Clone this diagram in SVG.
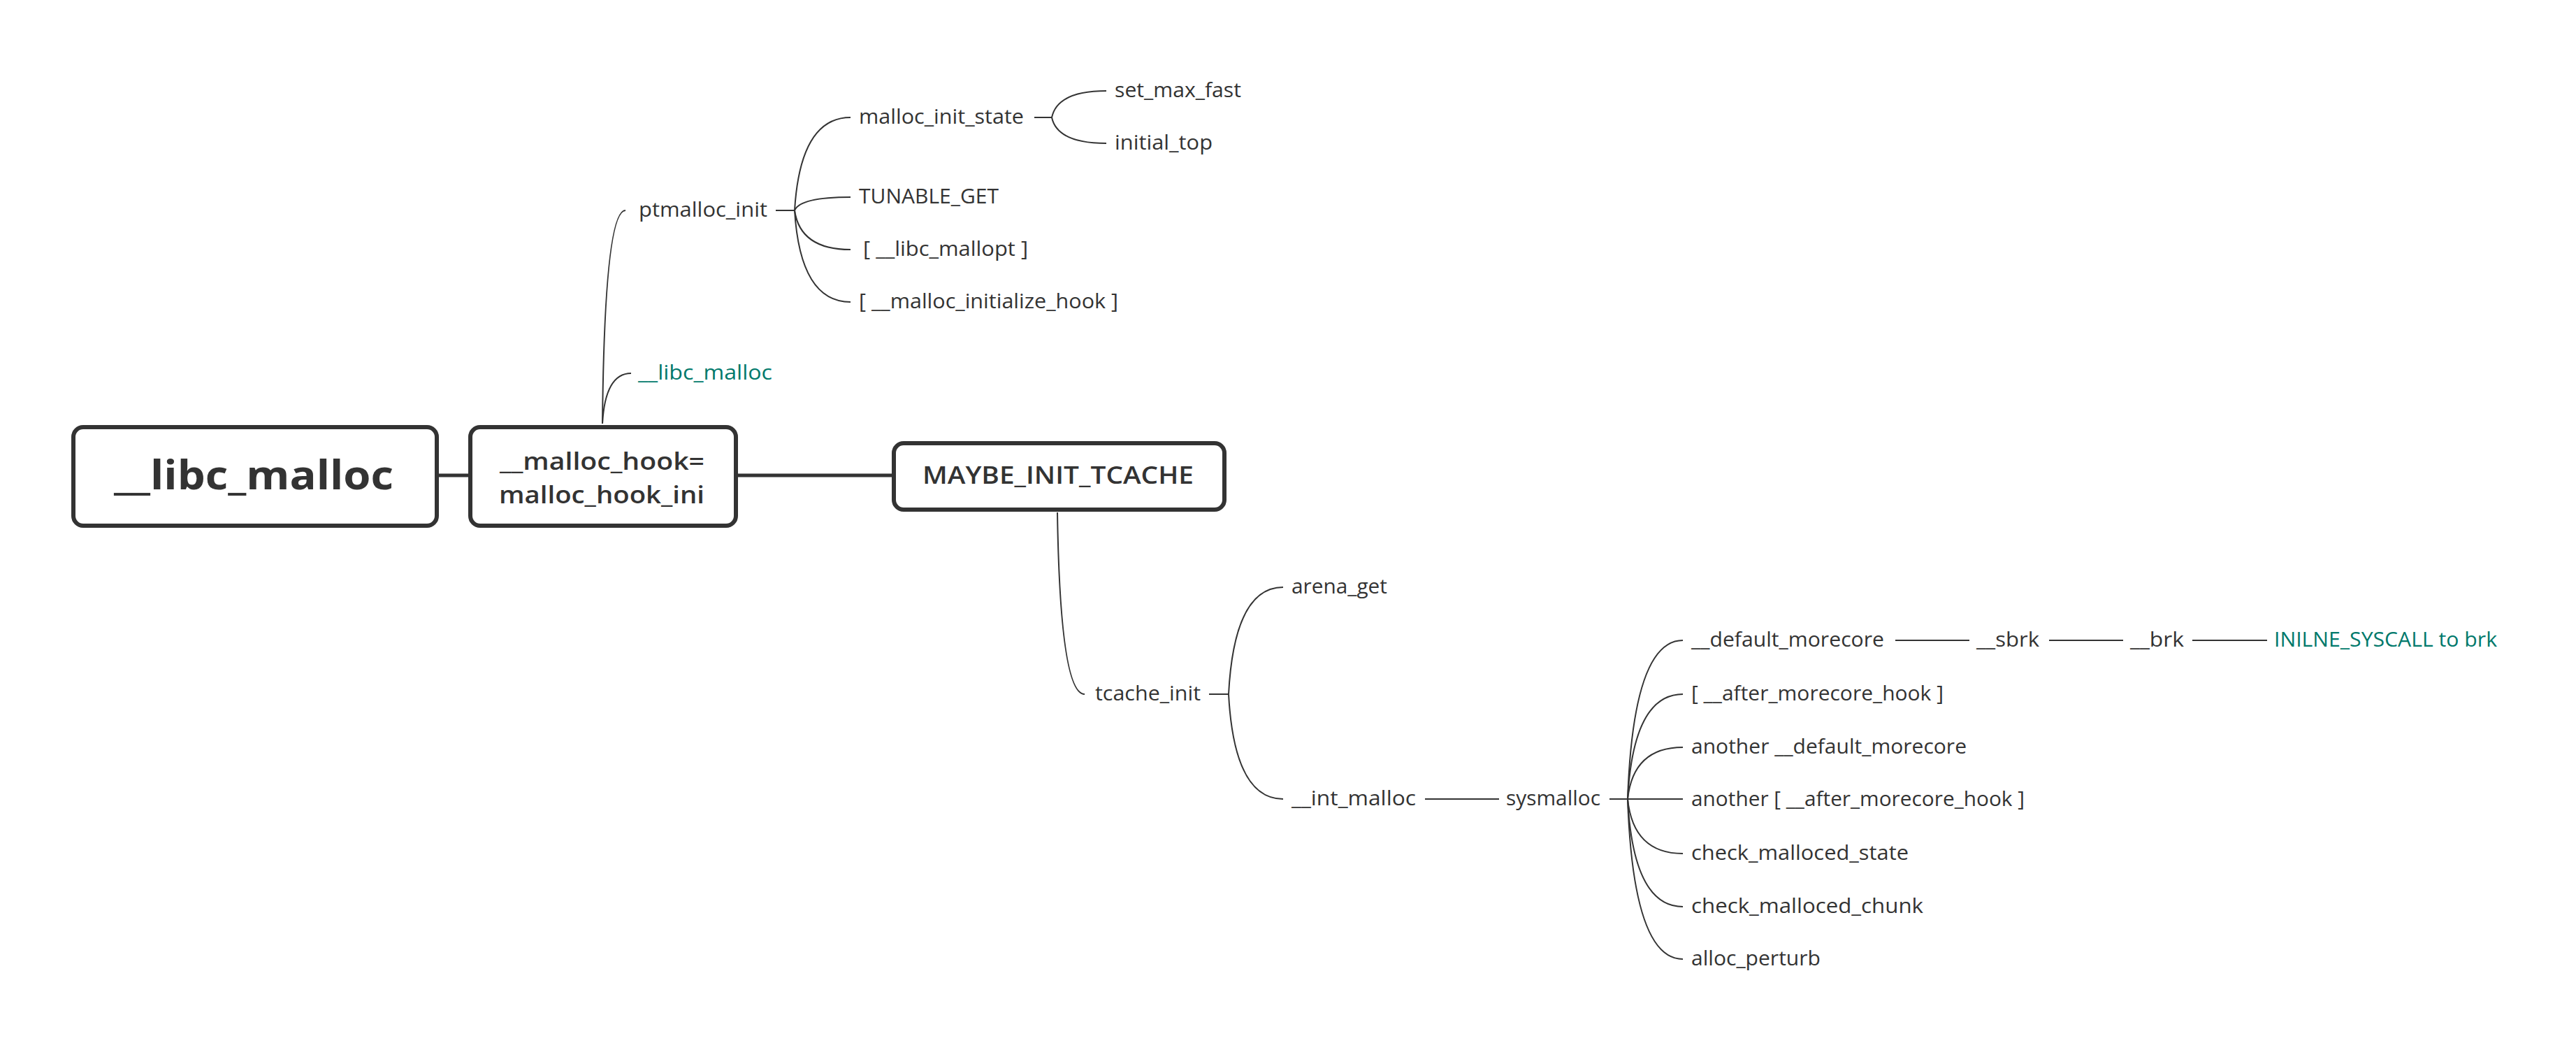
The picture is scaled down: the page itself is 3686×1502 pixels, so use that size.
<svg xmlns="http://www.w3.org/2000/svg" width="3686" height="1502" viewBox="0 0 3686 1502">
<style>
.box{fill:#fff;stroke:#333;stroke-width:6}
.thick{fill:none;stroke:#333;stroke-width:5}
.thin{fill:none;stroke:#333;stroke-width:2}
text{font-family:"Open Sans","Liberation Sans",sans-serif;fill:#333}
.lbl{font-size:29px}
.grn{fill:#00796b}
.root{font-size:58px;font-weight:700}
.main{font-size:35px;font-weight:600}
</style>
<rect width="3686" height="1502" fill="#fff"/>
<g id="connectors">
<path class="thick" d="M628,680 H672"/>
<path class="thick" d="M1053,680 H1278"/>
<path class="thin" d="M862,606 Q865,301 895,301"/>
<path class="thin" d="M862,606 Q866,534 903,534"/>
<path class="thin" d="M1110,301 H1137"/>
<path class="thin" d="M1137,301 Q1145,168 1217,168"/>
<path class="thin" d="M1137,301 Q1145,282 1217,282"/>
<path class="thin" d="M1137,301 Q1145,357 1217,357"/>
<path class="thin" d="M1137,301 Q1145,432 1217,432"/>
<path class="thin" d="M1480,168 H1505"/>
<path class="thin" d="M1505,168 Q1513,130 1583,130"/>
<path class="thin" d="M1505,168 Q1513,205 1583,205"/>
<path class="thin" d="M1513,733 Q1517,993 1552,993"/>
<path class="thin" d="M1730,993 H1758"/>
<path class="thin" d="M1758,993 Q1766,840 1836,840"/>
<path class="thin" d="M1758,993 Q1766,1143 1836,1143"/>
<path class="thin" d="M2039,1143 H2145"/>
<path class="thin" d="M2303,1143 H2329"/>
<path class="thin" d="M2329,1143 Q2337,916 2408,916"/>
<path class="thin" d="M2329,1143 Q2337,993 2408,993"/>
<path class="thin" d="M2329,1143 Q2337,1069 2408,1069"/>
<path class="thin" d="M2329,1143 H2408"/>
<path class="thin" d="M2329,1143 Q2337,1221 2408,1221"/>
<path class="thin" d="M2329,1143 Q2337,1297 2408,1297"/>
<path class="thin" d="M2329,1143 Q2337,1372 2408,1372"/>
<path class="thin" d="M2712,916 H2818"/>
<path class="thin" d="M2932,916 H3038"/>
<path class="thin" d="M3137,916 H3244"/>
</g>
<g id="n-root"><rect class="box" x="105" y="611" width="520" height="141" rx="14"/><text class="root" x="163" y="700" textLength="400" lengthAdjust="spacingAndGlyphs">__libc_malloc</text></g>
<g id="n-hook"><rect class="box" x="673" y="611" width="380" height="141" rx="14"/><text class="main" x="715" y="672" textLength="293" lengthAdjust="spacingAndGlyphs">__malloc_hook=</text><text class="main" x="714" y="720" textLength="294" lengthAdjust="spacingAndGlyphs">malloc_hook_ini</text></g>
<g id="n-maybe"><rect class="box" x="1279" y="634" width="473" height="95" rx="14"/><text class="main" x="1320" y="692" textLength="388" lengthAdjust="spacingAndGlyphs">MAYBE_INIT_TCACHE</text></g>
<g id="n-ptmalloc_init"><text class="lbl" x="914" y="310" textLength="184" lengthAdjust="spacingAndGlyphs">ptmalloc_init</text></g>
<g id="n-libc_malloc2"><text class="lbl grn" x="913" y="543" textLength="192" lengthAdjust="spacingAndGlyphs">__libc_malloc</text></g>
<g id="n-malloc_init_state"><text class="lbl" x="1229" y="177" textLength="236" lengthAdjust="spacingAndGlyphs">malloc_init_state</text></g>
<g id="n-tunable_get"><text class="lbl" x="1229" y="291" textLength="200" lengthAdjust="spacingAndGlyphs">TUNABLE_GET</text></g>
<g id="n-libc_mallopt"><text class="lbl" x="1235" y="366" textLength="236" lengthAdjust="spacingAndGlyphs">[ __libc_mallopt ]</text></g>
<g id="n-malloc_initialize_hook"><text class="lbl" x="1229" y="441" textLength="371" lengthAdjust="spacingAndGlyphs">[ __malloc_initialize_hook ]</text></g>
<g id="n-set_max_fast"><text class="lbl" x="1595" y="139" textLength="181" lengthAdjust="spacingAndGlyphs">set_max_fast</text></g>
<g id="n-initial_top"><text class="lbl" x="1595" y="214" textLength="140" lengthAdjust="spacingAndGlyphs">initial_top</text></g>
<g id="n-tcache_init"><text class="lbl" x="1567" y="1002" textLength="151" lengthAdjust="spacingAndGlyphs">tcache_init</text></g>
<g id="n-arena_get"><text class="lbl" x="1848" y="849" textLength="137" lengthAdjust="spacingAndGlyphs">arena_get</text></g>
<g id="n-int_malloc"><text class="lbl" x="1848" y="1152" textLength="178" lengthAdjust="spacingAndGlyphs">__int_malloc</text></g>
<g id="n-sysmalloc"><text class="lbl" x="2155" y="1152" textLength="135" lengthAdjust="spacingAndGlyphs">sysmalloc</text></g>
<g id="n-default_morecore"><text class="lbl" x="2420" y="925" textLength="276" lengthAdjust="spacingAndGlyphs">__default_morecore</text></g>
<g id="n-sbrk"><text class="lbl" x="2828" y="925" textLength="90" lengthAdjust="spacingAndGlyphs">__sbrk</text></g>
<g id="n-brk"><text class="lbl" x="3048" y="925" textLength="77" lengthAdjust="spacingAndGlyphs">__brk</text></g>
<g id="n-inline_syscall"><text class="lbl grn" x="3254" y="925" textLength="319" lengthAdjust="spacingAndGlyphs">INILNE_SYSCALL to brk</text></g>
<g id="n-after_morecore_hook"><text class="lbl" x="2420" y="1002" textLength="361" lengthAdjust="spacingAndGlyphs">[ __after_morecore_hook ]</text></g>
<g id="n-another_default"><text class="lbl" x="2420" y="1078" textLength="394" lengthAdjust="spacingAndGlyphs">another __default_morecore</text></g>
<g id="n-another_after"><text class="lbl" x="2420" y="1153" textLength="477" lengthAdjust="spacingAndGlyphs">another [ __after_morecore_hook ]</text></g>
<g id="n-check_state"><text class="lbl" x="2420" y="1230" textLength="311" lengthAdjust="spacingAndGlyphs">check_malloced_state</text></g>
<g id="n-check_chunk"><text class="lbl" x="2420" y="1306" textLength="332" lengthAdjust="spacingAndGlyphs">check_malloced_chunk</text></g>
<g id="n-alloc_perturb"><text class="lbl" x="2420" y="1381" textLength="185" lengthAdjust="spacingAndGlyphs">alloc_perturb</text></g>
</svg>
